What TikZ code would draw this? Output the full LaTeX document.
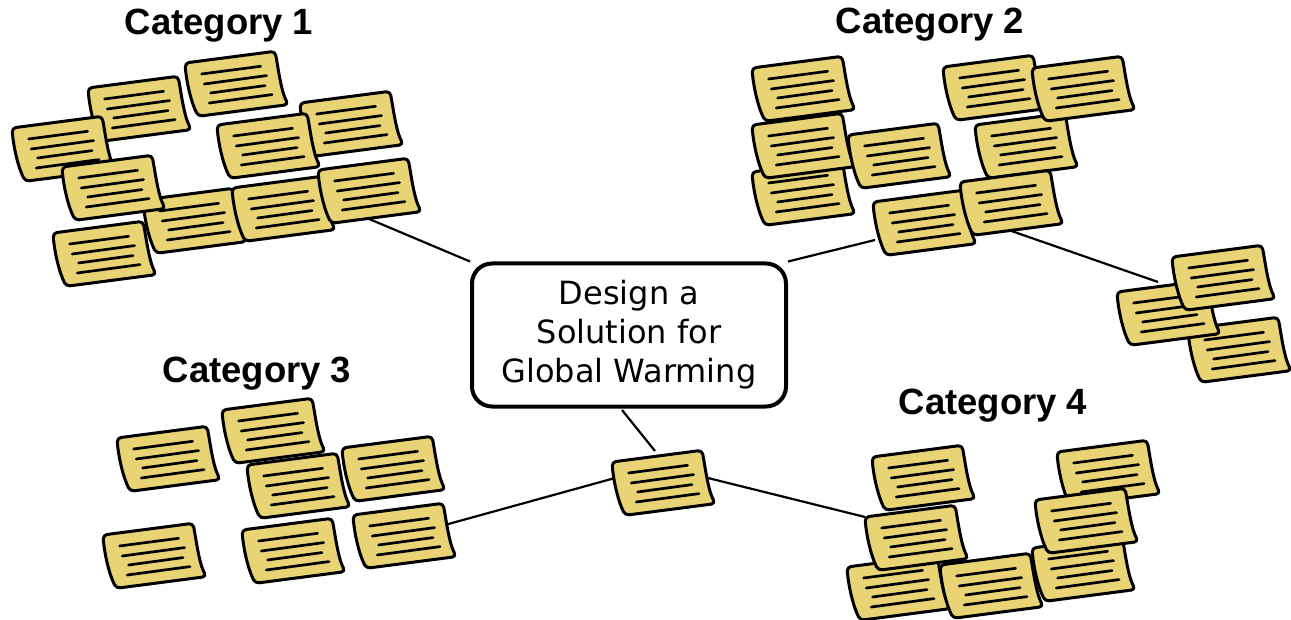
\documentclass[tikz,border=0pt]{standalone}
\usepackage{fontspec}
\setmainfont{DejaVu Sans}
\newfontfamily\catfont{Liberation Sans}
\usetikzlibrary{backgrounds}
\definecolor{stickyyellow}{RGB}{232,212,116}
\tikzset{
  notebody/.style={draw=black, line width=1.5pt, fill=stickyyellow, line join=round, rounded corners=2pt},
  noteline/.style={line width=1.35pt, line cap=round},
  note/.pic={
    \draw[notebody] (13.3,53.3) .. controls (6.5,40) and (1.5,20) .. (0,0)
      -- (90,-11.7) .. controls (93,4) and (96,28) .. (103.3,41.6) -- cycle;
    \draw[noteline] (16.6,11) -- (75.6,3.3)
                    (19.3,21) -- (81.6,12.6)
                    (25.6,30) -- (80,22.6)
                    (24.3,40) -- (87,31.6);
    \coordinate (-tl) at (0,0);
    \coordinate (-l) at (3,16);
    \coordinate (-r) at (96,16);
    \coordinate (-b) at (50,48.5);
    \coordinate (-c) at (52,21);
  },
  link/.style={line width=1.1pt},
  cat/.style={font=\catfont\bfseries\fontsize{18.25}{22}\selectfont, anchor=base, inner sep=0pt},
  box/.style={draw, fill=white, line width=2pt, rounded corners=10pt, minimum width=157pt,
    minimum height=71.5pt, align=center, inner sep=0pt, font=\fontsize{16}{19.5}\selectfont}
}
\begin{document}
\begin{tikzpicture}[x=0.5pt, y=-0.5pt]
\useasboundingbox (0,0) rectangle (1291,620);

% Titles
\node[cat] (cat1) at (219,35) {Category 1};
\node[cat] (cat2) at (930,34) {Category 2};
\node[cat] (cat3) at (257,383) {Category 3};
\node[cat] (cat4) at (993,415) {Category 4};

% Central box
\node[box] (box) at (629,335) {Design a\\Solution for\\Global Warming};

% Category 1 notes
\pic (A) at (88,88) {note};
\pic (B) at (185,63) {note};
\pic (C) at (12,128) {note};
\pic (E) at (300,103) {note};
\pic (D) at (217,125) {note};
\pic (G) at (143,200) {note};
\pic (F) at (62,167) {note};
\pic (H) at (53,233) {note};
\pic (I) at (232,188) {note};
\pic (J) at (318,170) {note};

% Category 2 notes
\pic (K) at (752,68) {note};
\pic (M) at (752,172) {note};
\pic (L) at (752,125) {note};
\pic (N) at (848,135) {note};
\pic (Q) at (975,125) {note};
\pic (O) at (943,67) {note};
\pic (P) at (1032,68) {note};
\pic (R) at (873,202) {note};
\pic (S) at (960,182) {note};
\pic (V) at (1188,329) {note};
\pic (T) at (1117,292) {note};
\pic (U) at (1172,257) {note};

% Category 3 notes
\pic (W) at (117,438) {note};
\pic (X) at (222,410) {note};
\pic (Y) at (247,465) {note};
\pic (Z) at (342,448) {note};
\pic (AA) at (103,535) {note};
\pic (AB) at (242,530) {note};
\pic (AC) at (353,515) {note};

% Central note
\pic (AD) at (612,462) {note};

% Category 4 notes
\pic (AE) at (872,457) {note};
\pic (AG) at (847,567) {note};
\pic (AF) at (865,517) {note};
\pic (AH) at (940,565) {note};
\pic (AI) at (1057,452) {note};
\pic (AK) at (1032,548) {note};
\pic (AJ) at (1035,500) {note};

% free connector ends
\coordinate (c2end) at (875,240);
\coordinate (c3end) at (1158,282);
\coordinate (c4start) at (622,410);
\coordinate (c4end) at (655,451);

\begin{scope}[on background layer]
  \draw[link] (J-b) -- (box.north west);
  \draw[link] (box.north east) -- (c2end);
  \draw[link] (S-b) -- (c3end);
  \draw[link] (c4start) -- (c4end);
  \draw[link] (AC-c) -- (AD-l);
  \draw[link] (AD-r) -- (AF-tl);
\end{scope}
\end{tikzpicture}
\end{document}
